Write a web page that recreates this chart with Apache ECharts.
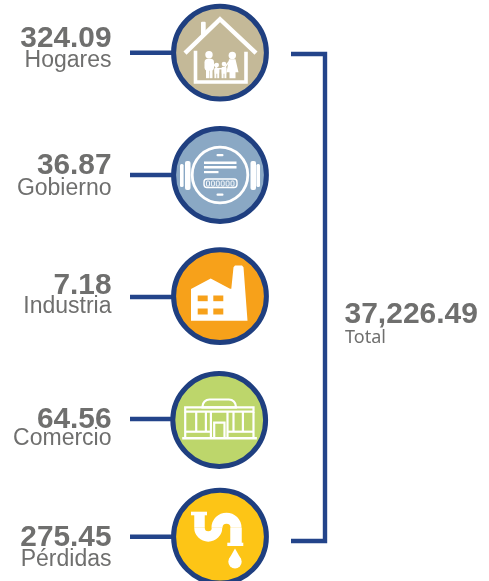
<!DOCTYPE html>
<html>
<head>
<meta charset="utf-8">
<style>
  html, body { margin: 0; padding: 0; background: #fff; }
  #chart { width: 489px; height: 581px; }
</style>
<script src="https://cdn.jsdelivr.net/npm/echarts@6/dist/echarts.min.js"></script>
</head>
<body>
<div id="chart"></div>
<script>
// data
const categories = ["Hogares", "Gobierno", "Industria", "Comercio", "Pérdidas"];
const values = [324.09, 36.87, 7.18, 64.56, 275.45];
const totalValue = 37226.49;
const totalLabel = "Total";

// look of each row
const circleColors = ["#c4b998", "#8aa8c4", "#f7a11a", "#bdd66b", "#fdc516"];
const rowNudge = [0, 1.3, 1.5, 4.3, 0];
const rowNudgeX = [0, 0, 0, -0.8, 0];
const lineNudge = [0, 1.3, 2.3, 3.3, 0];
const numberBase = [-3.6, 1.7, 1, 14, 11];
const labelBase = [15, 22, 18.5, 30, 30];

const BLUE = "#1f3f80";
const GREY = "#6f6f6e";
const WHITE = "#fff";
const fmt = (v) => v.toLocaleString("en-US", { minimumFractionDigits: 2, maximumFractionDigits: 2 });

// small drawing helpers for the icons
const stroke = (points, w) => ({
  type: "polyline",
  shape: { points },
  style: { stroke: WHITE, lineWidth: w, fill: null, lineJoin: "miter" },
});
const box = (x, y, width, height, fill, r) => ({
  type: "rect",
  shape: { x, y, width, height, r: r || 0 },
  style: { fill: fill || WHITE },
});
const frame = (x, y, width, height, w, r) => ({
  type: "rect",
  shape: { x, y, width, height, r: r || 0 },
  style: { fill: null, stroke: WHITE, lineWidth: w },
});
const dot = (cx, cy, r) => ({ type: "circle", shape: { cx, cy, r }, style: { fill: WHITE } });
const poly = (points, fill) => ({ type: "polygon", shape: { points }, style: { fill: fill || WHITE } });
const arc = (cx, cy, r, startAngle, endAngle, w) => ({
  type: "arc",
  shape: { cx, cy, r, startAngle, endAngle, clockwise: true },
  style: { stroke: WHITE, lineWidth: w, fill: null },
});

function houseIcon() {
  return [
    box(-19, -31, 4.7, 14, WHITE, 1),
    stroke([[-35, 0.5], [0, -33.5], [36, 0.5]], 4.4),
    stroke([[-24.5, -2], [-24.5, 29.3], [26, 29.3], [26, -1]], 3.6),
    dot(-11, 2, 3.7),
    box(-15.5, 6, 9.5, 12, WHITE, 3.5),
    box(-14, 16, 3, 9.5),
    box(-10.5, 16, 3, 9.5),
    dot(12.3, 2.7, 3.7),
    poly([[9, 6.5], [15.5, 6.5], [18.5, 19.5], [15.5, 19.5], [15.5, 25.5], [9.5, 25.5], [9.5, 19.5], [6.5, 19.5]]),
    stroke([[-8, 9], [-3, 16]], 1.4),
    stroke([[-3, 16], [4, 16]], 1.4),
    stroke([[9, 9], [4, 16]], 1.4),
    dot(-3.3, 12.3, 2.3),
    box(-5.8, 15, 5.2, 6, WHITE, 1.5),
    box(-5.6, 20, 2, 5.5),
    box(-2.8, 20, 2, 5.5),
    dot(4, 11.3, 2.3),
    box(1.4, 14, 5.2, 7, WHITE, 1.5),
    box(1.6, 20, 2, 5.5),
    box(4.4, 20, 2, 5.5),
  ];
}

function meterIcon() {
  const digits = [0, 1, 2, 3, 4, 5].map((i) => frame(-13.5 + i * 4.9, 6, 3, 5, 0.9, 1));
  return [
    { type: "circle", shape: { cx: 0, cy: 0, r: 27.8 }, style: { fill: null, stroke: WHITE, lineWidth: 2.8 } },
    box(-40, -11, 3.6, 23, WHITE, 1.5),
    box(-35, -14, 5.5, 29, WHITE, 2),
    box(36.4, -11, 3.6, 23, WHITE, 1.5),
    box(30.5, -14, 5.5, 29, WHITE, 2),
    box(-3.5, -21, 7, 2.2, WHITE, 1),
    box(-3.5, 18.5, 7, 2.2, WHITE, 1),
    box(-16, -13.5, 32.5, 2.4),
    box(-16, -9, 32.5, 2.4),
    box(-16, -4, 14.5, 2.2),
    frame(-16, 4, 33, 8.5, 1.4, 3),
  ].concat(digits);
}

function factoryIcon(color) {
  return [
    poly([[-29, -7.3], [-9.3, -17.7], [10, -7.5], [11.3, -7.5], [13.5, -29], [15, -30.7], [22, -30.7], [23.5, -29], [27.5, 24.5], [-29, 24.5]]),
    box(-22.3, -0.7, 10, 5.7, color),
    box(-6.7, -0.7, 10, 5.7, color),
    box(-22.3, 12.3, 10, 6, color),
    box(-6.7, 12.3, 10, 6, color),
  ];
}

function shopIcon() {
  const w = 2.2;
  return [
    stroke([[-37, 18.3], [37.7, 18.3]], 2.6),
    frame(-34, -12.7, 68.3, 4.4, w),
    frame(-16.7, -20.5, 33.4, 7.8, w, [7, 7, 0, 0]),
    stroke([[-34, -8], [-34, 18]], w),
    stroke([[34.3, -8], [34.3, 18]], w),
    stroke([[-34, 11.7], [-8.3, 11.7]], w),
    stroke([[8.3, 11.7], [34.3, 11.7]], w),
    stroke([[-23, -8], [-23, 11.7]], w),
    stroke([[-13.3, -8], [-13.3, 11.7]], w),
    stroke([[14.3, -8], [14.3, 11.7]], w),
    stroke([[23.7, -8], [23.7, 11.7]], w),
    stroke([[-8.3, -8], [-8.3, 18]], w),
    stroke([[8.3, -8], [8.3, 18]], w),
    frame(-5, 2.7, 10.3, 15.3, w),
  ];
}

function pipeIcon() {
  return [
    box(-29, -25, 16, 3.6),
    stroke([[-20.5, -23], [-20.5, -9]], 10.5),
    arc(-11.75, -9, 8.75, 0, Math.PI, 10.5),
    arc(6.5, -9, 9.5, Math.PI, Math.PI * 2, 11),
    stroke([[16, -9], [16, 6.5]], 11.5),
    box(7.3, 6, 16, 3.3),
    dot(15, 25, 6.7),
    poly([[15, 11.7], [8.9, 22.5], [21.1, 22.5]]),
  ];
}

const icons = [houseIcon, meterIcon, factoryIcon, shopIcon, pipeIcon];

// one row: connector, circle, icon and both texts
function renderRow(params, api) {
  const i = params.dataIndex;
  const center = api.coord([api.value(0), api.value(1)]);
  const cx = center[0] + rowNudgeX[i];
  const y = center[1];
  const cy = y + rowNudge[i];
  const ly = y + lineNudge[i];
  return {
    type: "group",
    children: [
      {
        type: "line",
        shape: { x1: 130, y1: ly, x2: cx - 44, y2: ly },
        style: { stroke: "#23448a", lineWidth: 4.6 },
      },
      {
        type: "text",
        style: {
          text: fmt(values[i]),
          x: 111.5,
          y: y + numberBase[i] - 10,
          textAlign: "right",
          textVerticalAlign: "middle",
          fill: GREY,
          font: "bold 29.8px 'Liberation Sans', Arial, sans-serif",
        },
      },
      {
        type: "text",
        style: {
          text: categories[i],
          x: 111.5,
          y: y + labelBase[i] - 7,
          textAlign: "right",
          textVerticalAlign: "middle",
          fill: GREY,
          font: "23px 'Liberation Sans', Arial, sans-serif",
        },
      },
      {
        type: "circle",
        shape: { cx, cy, r: 46.4 },
        style: { fill: circleColors[i], stroke: BLUE, lineWidth: 5 },
      },
      { type: "group", x: cx, y: cy, children: icons[i](circleColors[i]) },
    ],
  };
}

// bracket joining first and last rows, plus the total next to it
function renderBracket(params, api) {
  const top = api.coord([325, categories[0]]);
  const bottom = api.coord([325, categories[categories.length - 1]]);
  const y1 = top[1] + 1.3;
  const y2 = bottom[1] + 4.3;
  const mid = (y1 + y2) / 2;
  return {
    type: "group",
    children: [
      {
        type: "polyline",
        shape: { points: [[291, y1], [top[0], y1], [top[0], y2], [291, y2]] },
        style: { stroke: "#23448a", lineWidth: 4.4, fill: null, lineJoin: "miter" },
      },
      {
        type: "text",
        style: {
          text: fmt(totalValue),
          x: 344.5,
          y: mid + 17,
          textVerticalAlign: "middle",
          fill: GREY,
          font: "bold 30px 'Liberation Sans', Arial, sans-serif",
        },
      },
      {
        type: "text",
        style: {
          text: totalLabel,
          x: 345,
          y: mid + 40,
          textVerticalAlign: "middle",
          fill: GREY,
          font: "18px 'Noto Sans', sans-serif",
        },
      },
    ],
  };
}

const myChart = echarts.init(document.getElementById("chart"));

myChart.setOption({
  backgroundColor: "#ffffff",
  animation: false,
  grid: { left: 0, right: 0, top: -7.8, bottom: -16.2, outerBoundsMode: "none" },
  xAxis: { type: "value", min: 0, max: 489, show: false },
  yAxis: { type: "category", data: categories, inverse: true, show: false },
  series: [
    {
      type: "custom",
      renderItem: renderBracket,
      data: [[325, categories[0]]],
      encode: { x: 0, y: 1 },
      silent: true,
    },
    {
      type: "custom",
      renderItem: renderRow,
      data: categories.map((c, i) => [220, i, values[i]]),
      encode: { x: 0, y: 1 },
      silent: true,
      clip: false,
    },
  ],
});
</script>
</body>
</html>
